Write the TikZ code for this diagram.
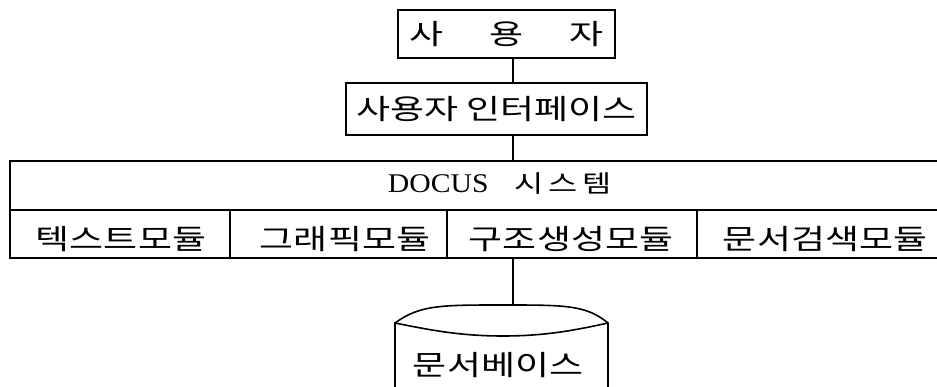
\documentclass[tikz,border=0pt]{standalone}
\usepackage{fontspec}
\newfontfamily\kr{Noto Sans CJK KR}[FakeStretch=1.32]
\newfontfamily\lat{Liberation Serif}[FakeStretch=1.1]
\begin{document}
\begin{tikzpicture}[x=1pt,y=-1pt, line width=1.6pt,
  txt/.style={font=\kr\fontsize{28}{32}\selectfont, inner sep=0pt},
  frame/.style={draw, line width=1.6pt}]
\useasboundingbox (0,0) rectangle (937,387);
% top boxes
\node[frame, txt, minimum width=217pt, minimum height=48pt] (user) at (506.5,34) {사\hspace{46pt}용\hspace{46pt}자};
\node[frame, txt, minimum width=301pt, minimum height=52pt] (iface) at (496.5,109) {사용자 인터페이스};
\coordinate (lx) at (513,0);
\coordinate (systop) at (513,161);
\coordinate (sysbot) at (513,258);
\coordinate (dbtop) at (513,305);
% system frame (open on the right)
\draw[frame] (937,161) -- (10,161) -- (10,258) -- (937,258);
\draw[frame] (10,210) -- (937,210);
\draw[frame] (230,210) -- (230,258);
\draw[frame] (447,210) -- (447,258);
\draw[frame] (697,210) -- (697,258);
\node[txt, font=\kr\fontsize{24}{30}\selectfont] (sys) at (500,184) {{\lat\fontsize{27}{32}\selectfont DOCUS}\hspace{26pt}시\hspace{5pt}스\hspace{5pt}템};
\node[txt] (m1) at (121,239) {텍스트모듈};
\node[txt] (m2) at (345,239) {그래픽모듈};
\node[txt] (m3) at (571,239) {구조생성모듈};
\node[txt] (m4) at (825,239) {문서검색모듈};
% database cylinder
\draw[frame] (395,387) -- (395,323) .. controls (420,305) and (440,305) .. (503,305)
  .. controls (566,305) and (586,305) .. (608,323) -- (608,387);
\draw[frame] (395,323) .. controls (430,330) and (460,336) .. (503,336)
  .. controls (546,336) and (576,330) .. (608,323);
\node[txt] (db) at (498,365) {문서베이스};
% connectors
\draw[frame] (user.south -| lx) -- (iface.north -| lx);
\draw[frame] (iface.south -| lx) -- (systop);
\draw[frame] (sysbot) -- (dbtop);
\end{tikzpicture}
\end{document}
